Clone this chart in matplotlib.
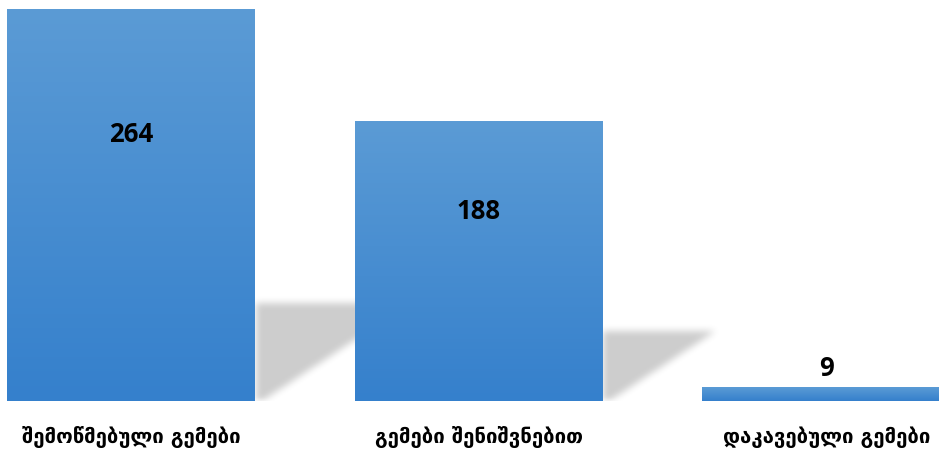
import matplotlib.pyplot as plt
import numpy as np
from matplotlib.colors import LinearSegmentedColormap

# data
categories = ['შემოწმებული გემები', 'გემები შენიშვნებით', 'დაკავებული გემები']
values = [264, 188, 9]
value_labels = ['264', '188', '9']

W, H = 939, 451
fig = plt.figure(figsize=(W / 100, H / 100), dpi=100)
# axes in pixels: bars start at y=401 from top, tallest reaches y=9
ax = fig.add_axes([0, 50 / H, 1, 392 / H])
ax.set_xlim(-131.5 / 347.5, (W - 131.5) / 347.5)
ax.set_ylim(0, max(values))
ax.axis('off')

x0, x1 = ax.get_xlim()
y0, y1 = ax.get_ylim()
bar_w = 248 / 347.5

# shadows: raster in axes pixel grid, blurred
nx, ny = W, 392
gx = np.linspace(x0, x1, nx)
gy = np.linspace(y1, y0, ny)
X, Y = np.meshgrid(gx, gy)
mask = np.zeros((ny, nx))
ux = (x1 - x0) / nx  # data per px in x
uy = (y1 - y0) / ny
for i, v in enumerate(values):
    right = i + bar_w / 2
    hpx = v / uy
    top = 0.25 * v
    length = 0.38 * hpx * ux
    inside = (X >= right) & (Y <= top) & (X - right <= 7 * ux + length * Y / top)
    mask[inside] = 1.0
k = np.ones(7) / 7
for _ in range(3):
    mask = np.apply_along_axis(lambda r: np.convolve(r, k, mode='same'), 1, mask)
    mask = np.apply_along_axis(lambda c: np.convolve(c, k, mode='same'), 0, mask)
shadow = np.zeros((ny, nx, 4))
shadow[..., 3] = mask * 0.2
ax.imshow(shadow, extent=(x0, x1, y0, y1), aspect='auto', zorder=1,
          interpolation='bilinear')

# bars with vertical gradient
cmap = LinearSegmentedColormap.from_list('bl', ['#3580cc', '#5b9bd5'])
grad = np.linspace(0, 1, 256).reshape(-1, 1)
for i, v in enumerate(values):
    ax.imshow(grad, extent=(i - bar_w / 2, i + bar_w / 2, 0, v), origin='lower',
              cmap=cmap, aspect='auto', zorder=2)
ax.set_xlim(x0, x1)
ax.set_ylim(y0, y1)

# value labels
for i, (v, lab) in enumerate(zip(values, value_labels)):
    if v > 0.2 * max(values):
        yv, va = 0.68 * v, 'center'
    else:
        yv, va = v + 4, 'bottom'
    ax.text(i, yv, lab, ha='center', va=va, fontsize=18.5, fontweight='bold',
            family=['Open Sans', 'DejaVu Sans'], zorder=3)

# category labels
for i, c in enumerate(categories):
    ax.text(i, -36 * uy, c, ha='center', va='center', fontsize=14.7,
            fontweight='bold', family=['DejaVu Sans'], clip_on=False)

fig.savefig('out.png', dpi=100)
